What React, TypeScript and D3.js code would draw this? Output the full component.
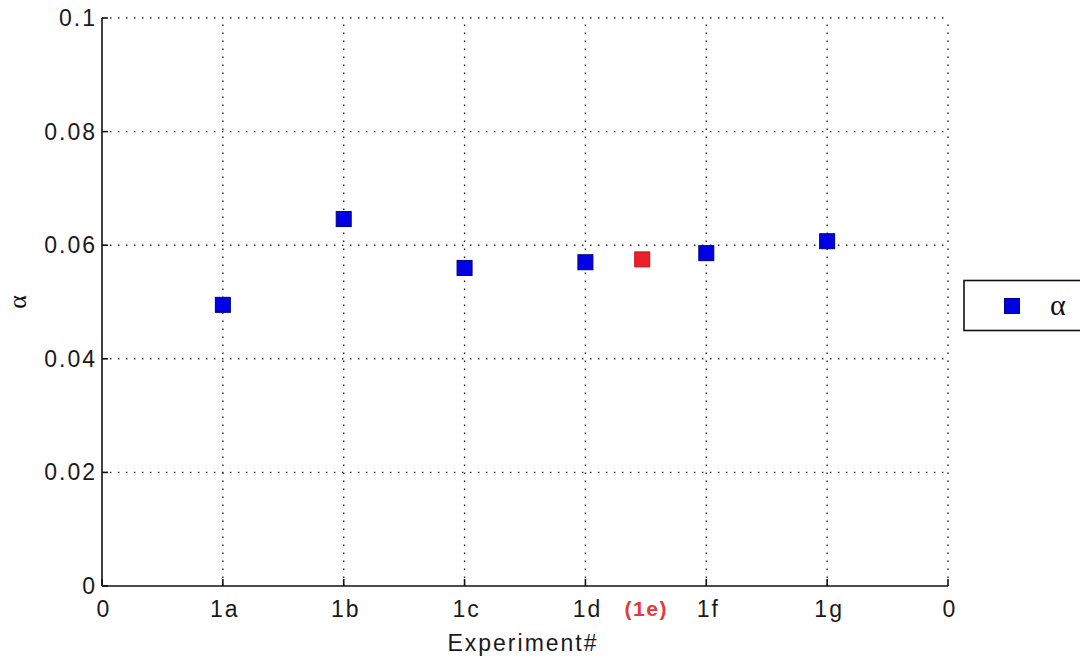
import React from "react";
import * as d3 from "d3";

// Tick positions and labels along the experiment axis
const xTickValues = [0, 1, 2, 3, 4, 5, 6, 7];
const xTickLabels = ["0", "1a", "1b", "1c", "1d", "1f", "1g", "0"];

// Measured alpha per experiment (position on the x axis, value)
const experimentPositions = [1, 2, 3, 4, 5, 6];
const experimentNames = ["1a", "1b", "1c", "1d", "1f", "1g"];
const alphaValues = [0.0495, 0.0646, 0.056, 0.057, 0.0586, 0.0607];

// Experiment 1e, shown separately between 1d and 1f
const extraPositions = [4.47];
const extraNames = ["(1e)"];
const extraValues = [0.0575];

const yTickValues = [0, 0.02, 0.04, 0.06, 0.08, 0.1];

const W = 1080;
const H = 660;
const left = 102;
const right = 948;
const top = 18;
const bottom = 586;

const FONT = "'Liberation Sans', Arial, Helvetica, sans-serif";
const SERIF = "'Liberation Serif', 'DejaVu Serif', serif";

export default function App() {
  const x = d3.scaleLinear().domain([0, 7]).range([left, right]);
  const y = d3.scaleLinear().domain([0, 0.1]).range([bottom, top]);
  const fmt = (v: number) => (v === 0 ? "0" : d3.format("~g")(+v.toFixed(3)));
  const ms = 15;

  return (
    <svg
      width={W}
      height={H}
      style={{ position: "absolute", left: 0, top: 0, display: "block", background: "#fff" }}
    >
      <rect x={0} y={0} width={W} height={H} fill="#fff" />
      {/* dotted grid */}
      <g stroke="#222" strokeWidth={1.4} strokeDasharray="1.4,6.6" fill="none">
        {yTickValues.slice(1).map((v) => (
          <line key={"gy" + v} x1={left} x2={right} y1={y(v)} y2={y(v)} />
        ))}
        {xTickValues.slice(1).map((v) => (
          <line key={"gx" + v} x1={x(v)} x2={x(v)} y1={bottom} y2={top} />
        ))}
      </g>
      {/* axes */}
      <g stroke="#111" strokeWidth={1.6} fill="none">
        <line x1={left} x2={left} y1={top} y2={bottom} />
        <line x1={left} x2={right} y1={bottom} y2={bottom} />
        {yTickValues.map((v) => (
          <line key={"ty" + v} x1={left} x2={left + 6} y1={y(v)} y2={y(v)} />
        ))}
        {xTickValues.map((v) => (
          <line key={"tx" + v} x1={x(v)} x2={x(v)} y1={bottom} y2={bottom - 7} />
        ))}
      </g>
      {/* tick labels and axis title */}
      <g fontFamily={FONT} fontSize={23} fill="#1a1a1a" letterSpacing={2}>
        {yTickValues.map((v) => (
          <text key={"ly" + v} x={left - 5} y={y(v) + 8} textAnchor="end">
            {fmt(v)}
          </text>
        ))}
        {xTickValues.map((v, i) => (
          <text key={"lx" + v} x={x(v) + 2} y={617} textAnchor="middle">
            {xTickLabels[i]}
          </text>
        ))}
        <text x={523} y={651} textAnchor="middle">
          Experiment#
        </text>
      </g>
      {/* extra label */}
      {extraPositions.map((p, i) => (
        <text
          key={"ex" + i}
          x={x(p) + 4}
          y={616}
          textAnchor="middle"
          fontFamily={FONT}
          fontWeight="bold"
          fontSize={21}
          letterSpacing={1.5}
          fill="#e23a3a"
        >
          {extraNames[i]}
        </text>
      ))}
      {/* y axis label */}
      <text
        transform={`translate(26,${(top + bottom) / 2}) rotate(-90)`}
        textAnchor="middle"
        fontFamily={SERIF}
        fontSize={26}
        fill="#111"
      >
        α
      </text>
      {/* markers */}
      {experimentPositions.map((p, i) => (
        <rect
          key={experimentNames[i]}
          x={x(p) - ms / 2}
          y={y(alphaValues[i]) - ms / 2}
          width={ms}
          height={ms}
          fill="#0000e4"
          stroke="#000080"
          strokeWidth={1}
        />
      ))}
      {extraPositions.map((p, i) => (
        <rect
          key={"em" + i}
          x={x(p) - ms / 2}
          y={y(extraValues[i]) - ms / 2}
          width={ms}
          height={ms}
          fill="#e8202a"
          stroke="#c01020"
          strokeWidth={1}
        />
      ))}
      {/* legend */}
      <rect x={964} y={280.5} width={130} height={50} fill="#fff" stroke="#111" strokeWidth={1.6} />
      <rect x={1012 - ms / 2} y={306 - ms / 2} width={ms} height={ms} fill="#0000e4" stroke="#000080" strokeWidth={1} />
      <text x={1050} y={315} fontFamily={SERIF} fontSize={30} fill="#111">
        α
      </text>
    </svg>
  );
}
